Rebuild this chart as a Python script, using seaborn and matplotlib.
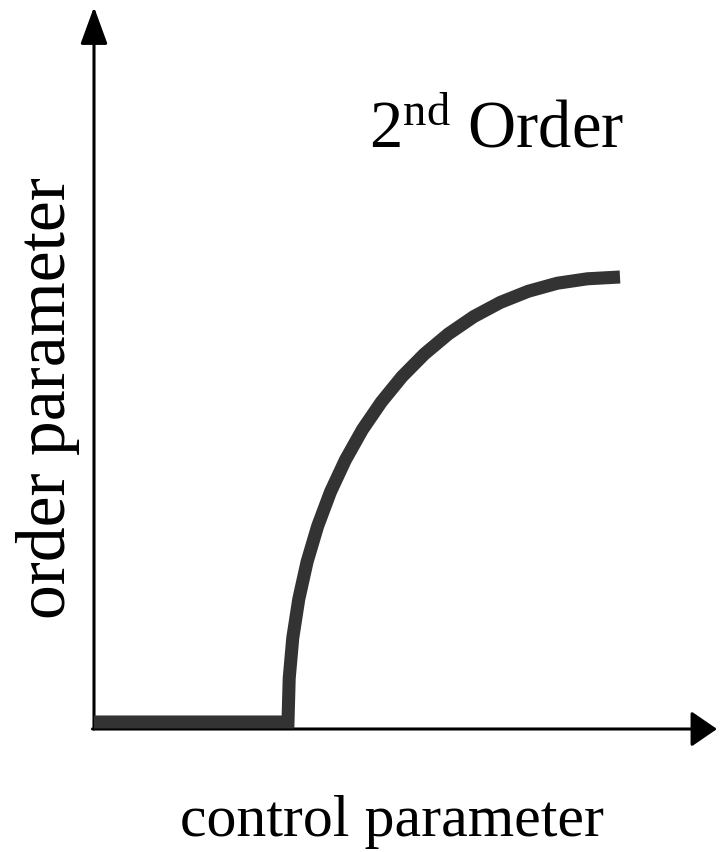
import matplotlib
matplotlib.use("Agg")
import matplotlib.pyplot as plt
import seaborn as sns
import pandas as pd

# ---- data ----
flat_x = [0.0, 3.688]
flat_y = [0.0, 0.0]
curve_x = [3.711, 3.779, 3.893, 4.051, 4.252, 4.496, 4.780, 5.103, 5.462,
           5.855, 6.282, 6.737, 7.220, 7.727, 8.257, 8.808, 9.381, 10.0]
curve_y = [0.098, 0.189, 0.276, 0.360, 0.440, 0.517, 0.589, 0.657, 0.719,
           0.776, 0.827, 0.872, 0.911, 0.943, 0.968, 0.986, 0.996, 1.0]
x_label = "control parameter"
y_label = "order parameter"
title_text = r"2$^{\mathrm{nd}}$ Order"

df = pd.DataFrame({"control": flat_x + curve_x, "order": flat_y + curve_y})

sns.set_theme(style="white")
plt.rcParams["font.family"] = ["Liberation Serif", "DejaVu Serif"]
plt.rcParams["mathtext.fontset"] = "custom"
plt.rcParams["mathtext.rm"] = "Liberation Serif"
plt.rcParams["mathtext.it"] = "Liberation Serif:italic"

W, H, DPI = 720, 852, 100
fig = plt.figure(figsize=(W / DPI, H / DPI), dpi=DPI)
ax = fig.add_axes([0, 0, 1, 1])

# pixel mapping: origin of data at px (94, 722); 52.6 px per x unit, 445 px per y unit
sx, sy = 52.6, 445.0
x0, y0 = 94.0, 722.0
ax.set_xlim(-x0 / sx, (W - x0) / sx)
ax.set_ylim((y0 - H) / sy, y0 / sy)
ax.set_axis_off()

sns.lineplot(data=df, x="control", y="order", estimator=None, sort=False,
             color="#333333", linewidth=9.4, ax=ax,
             solid_capstyle="butt", solid_joinstyle="miter", zorder=3)

# axes with arrows
y_axis = (y0 - 729) / sy
ax.annotate("", xy=(0, (y0 - 7) / sy), xytext=(0, y_axis),
            arrowprops=dict(arrowstyle="-|>,head_length=1.15,head_width=0.42",
                            mutation_scale=20, lw=2.2, color="black",
                            shrinkA=0, shrinkB=0),
            annotation_clip=False, zorder=2)
ax.annotate("", xy=((717 - x0) / sx, y_axis), xytext=(-1.5 / sx, y_axis),
            arrowprops=dict(arrowstyle="-|>,head_length=0.8,head_width=0.55",
                            mutation_scale=20, lw=2.2, color="black",
                            shrinkA=0, shrinkB=0),
            annotation_clip=False, zorder=2)

# texts
fig.text(392 / W, 1 - 836 / H, x_label, fontsize=43, ha="center",
         va="baseline", color="black")
fig.text(48 / W, 1 - 398 / H, y_label, fontsize=50, rotation=90,
         ha="center", va="center", color="black")
fig.text(369 / W, 1 - 148 / H, title_text, fontsize=48, ha="left",
         va="baseline", color="black")

fig.savefig("out.png", dpi=DPI)
